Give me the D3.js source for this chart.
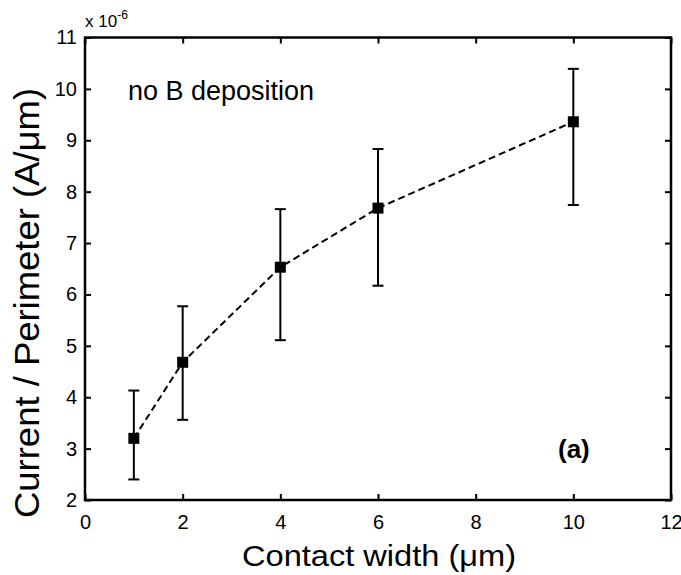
<!DOCTYPE html>
<html><head><meta charset="utf-8">
<script src="https://cdn.jsdelivr.net/npm/d3@7"></script>
<style>body{margin:0;background:#fff}svg{display:block}text{font-family:"Liberation Sans",Arial,sans-serif}</style>
</head><body>
<svg id="c" width="681" height="575"></svg>
<script>
const widths = [1, 2, 4, 6, 10];
const values = [3.20, 4.68, 6.53, 7.68, 9.36];
const errTop = [4.13, 5.77, 7.66, 8.83, 10.39];
const errBottom = [2.40, 3.56, 5.11, 6.17, 7.74];
const xTicks = [0, 2, 4, 6, 8, 10, 12];
const yTicks = [2, 3, 4, 5, 6, 7, 8, 9, 10, 11];

const svg = d3.select("#c");
const L = 85, R = 671, T = 37.5, B = 500;
const x = d3.scaleLinear().domain([0, 12]).range([L, R]);
const y = d3.scaleLinear().domain([2, 11]).range([B, T]);
const FF = '"Liberation Sans",Arial,sans-serif';

const data = widths.map((w, i) => ({w, v: values[i], hi: errTop[i], lo: errBottom[i]}));

const tickLen = 6;
svg.append("g").attr("transform", `translate(0,${B})`)
  .call(d3.axisBottom(x).tickValues(xTicks).tickSize(-tickLen).tickPadding(15))
  .call(g => g.select(".domain").remove());
svg.append("g").attr("transform", `translate(0,${T})`)
  .call(d3.axisTop(x).tickValues(xTicks).tickSize(-tickLen).tickFormat(""))
  .call(g => g.select(".domain").remove());
svg.append("g").attr("transform", `translate(${L},0)`)
  .call(d3.axisLeft(y).tickValues(yTicks).tickSize(-tickLen).tickPadding(8))
  .call(g => g.select(".domain").remove());
svg.append("g").attr("transform", `translate(${R},0)`)
  .call(d3.axisRight(y).tickValues(yTicks).tickSize(-tickLen).tickFormat(""))
  .call(g => g.select(".domain").remove());
svg.selectAll(".tick line").attr("stroke", "#000").attr("stroke-width", 2);
svg.selectAll(".tick text").attr("font-size", 20).attr("fill", "#000").attr("font-family", FF);
svg.append("rect").attr("x", L).attr("y", T).attr("width", R - L).attr("height", B - T)
  .attr("fill", "none").attr("stroke", "#000").attr("stroke-width", 2.5);

svg.append("path").datum(data)
  .attr("d", d3.line().x(d => x(d.w)).y(d => y(d.v)))
  .attr("fill", "none").attr("stroke", "#000").attr("stroke-width", 2)
  .attr("stroke-dasharray", "7,4");

const eb = svg.append("g").attr("stroke", "#000").attr("stroke-width", 2);
data.forEach(d => {
  eb.append("line").attr("x1", x(d.w)).attr("x2", x(d.w)).attr("y1", y(d.hi)).attr("y2", y(d.lo));
  eb.append("line").attr("x1", x(d.w) - 5.5).attr("x2", x(d.w) + 5.5).attr("y1", y(d.hi)).attr("y2", y(d.hi));
  eb.append("line").attr("x1", x(d.w) - 5.5).attr("x2", x(d.w) + 5.5).attr("y1", y(d.lo)).attr("y2", y(d.lo));
});

svg.selectAll("rect.m").data(data).join("rect").attr("class", "m")
  .attr("x", d => x(d.w) - 5.5).attr("y", d => y(d.v) - 5.5)
  .attr("width", 11).attr("height", 11).attr("fill", "#000");

svg.append("text").attr("x", 85).attr("y", 27).attr("font-size", 17).attr("fill", "#000")
  .html('x 10<tspan dy="-8" font-size="12">-6</tspan>');
svg.append("text").attr("x", 128).attr("y", 100).attr("font-size", 27).attr("fill", "#000").text("no B deposition");
svg.append("text").attr("x", 558).attr("y", 458).attr("font-size", 26).attr("font-weight", "bold").attr("fill", "#000").text("(a)");
svg.append("text").attr("x", 379).attr("y", 566).attr("text-anchor", "middle")
  .attr("font-size", 30).attr("textLength", 274).attr("lengthAdjust", "spacingAndGlyphs")
  .attr("fill", "#000").text("Contact width (μm)");
svg.append("text").attr("transform", `translate(39,303) rotate(-90)`).attr("text-anchor", "middle")
  .attr("font-size", 35).attr("textLength", 430).attr("lengthAdjust", "spacingAndGlyphs")
  .attr("fill", "#000").text("Current / Perimeter (A/μm)");
</script>
</body></html>
